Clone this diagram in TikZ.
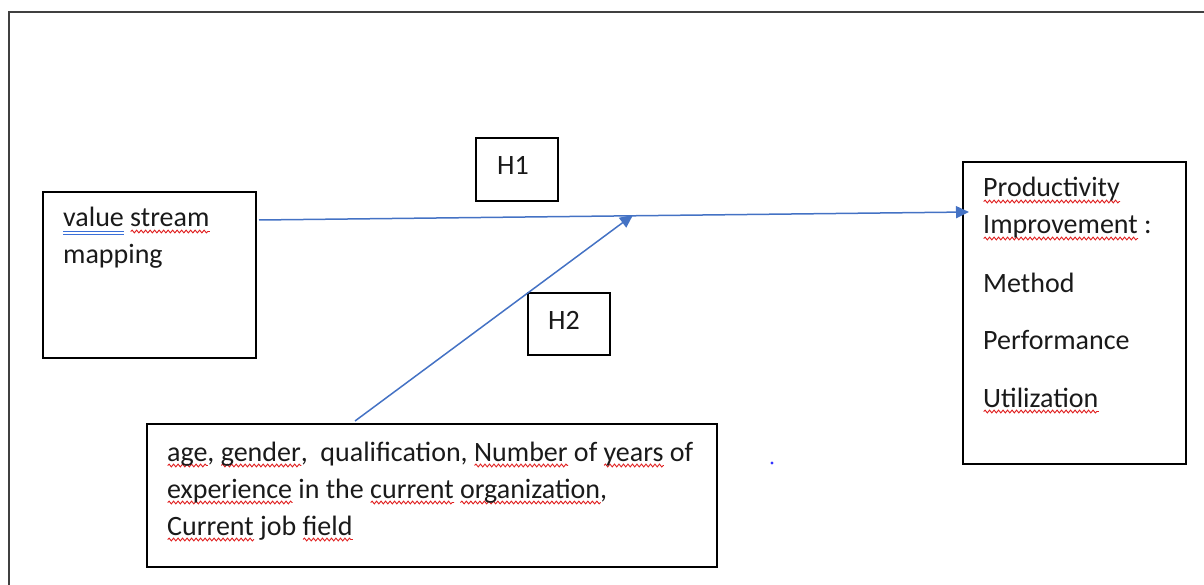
\documentclass[tikz,border=0pt]{standalone}
\usepackage{fontspec}
\setmainfont{Carlito}
\usetikzlibrary{arrows.meta,decorations.pathmorphing}
\definecolor{arrowblue}{HTML}{4472C4}
\definecolor{sqred}{HTML}{E02020}
\definecolor{ulblue}{HTML}{3A6FD8}
\definecolor{txt}{HTML}{1A1A1A}
\newsavebox\sqbox
\newcommand\sqw[1]{\leavevmode\sbox\sqbox{#1}\rlap{\tikz[baseline=0pt]\draw[sqred,line width=0.9pt,decorate,decoration={snake,amplitude=1.4pt,segment length=4.5pt}] (0pt,-4.5pt) -- (\the\wd\sqbox,-4.5pt);}\usebox\sqbox}
\newcommand\dbl[1]{\leavevmode\sbox\sqbox{#1}\rlap{\textcolor{ulblue}{\rule[-5.5pt]{\wd\sqbox}{1pt}}}\rlap{\textcolor{ulblue}{\rule[-8pt]{\wd\sqbox}{1pt}}}\usebox\sqbox}
\tikzset{
  boxnode/.style={draw=black, line width=1.3pt, inner sep=0pt, rectangle},
  lbl/.style={anchor=base west, inner sep=0pt, text=txt, font=\fontsize{28}{37}\selectfont},
  conn/.style={draw=arrowblue, line width=1.5pt, -{Triangle[length=13pt,width=12pt]}},
  frame/.style={draw=black!75, line width=1.6pt}
}
\begin{document}
\begin{tikzpicture}[x=1pt,y=-1pt]
\useasboundingbox (0,0) rectangle (1204,585);
\draw[frame] (9,585) -- (9,12) -- (1204,12);
% boxes
\node[boxnode, minimum width=213pt, minimum height=166pt] (vsm) at (149.5,275) {};
\node[boxnode, minimum width=223pt, minimum height=302pt] (pi) at (1074.5,313) {};
\node[boxnode, minimum width=82pt, minimum height=63pt] (h1) at (517,169.5) {};
\node[boxnode, minimum width=82pt, minimum height=62pt] (h2) at (569,324) {};
\node[boxnode, minimum width=570pt, minimum height=143pt] (dem) at (432,495.5) {};
% texts
\node[lbl] (vsm1) at (63,227) {\dbl{value} \sqw{stream}};
\node[lbl] (vsm2) at (63,264) {mapping};
\node[lbl] (pi1) at (983,197) {\sqw{Productivity}};
\node[lbl] (pi2) at (983,234) {\sqw{Improvement} :};
\node[lbl] (pi3) at (983,292) {Method};
\node[lbl] (pi4) at (983,349) {Performance};
\node[lbl] (pi5) at (983,407) {\sqw{Utilization}};
\node[lbl] (h1t) at (497,175) {H1};
\node[lbl] (h2t) at (548,329) {H2};
\node[lbl] (d1) at (167,461) {\sqw{age}, \sqw{gender},\ \ qualification, \sqw{Number} of \sqw{years} of};
\node[lbl] (d2) at (167,498) {\sqw{experience} in the \sqw{current} \sqw{organization},};
\node[lbl] (d3) at (167,535) {\sqw{Current} job \sqw{field}};
% connectors
\coordinate (h1s) at (259,220);
\coordinate (h1e) at (969,212);
\coordinate (h2s) at (355,421);
\coordinate (h2e) at (633,215);
\draw[conn] (h1s) -- (h1e);
\draw[conn] (h2s) -- (h2e);
\fill[blue!80] (772,463) circle (1.6pt);
\end{tikzpicture}
\end{document}
